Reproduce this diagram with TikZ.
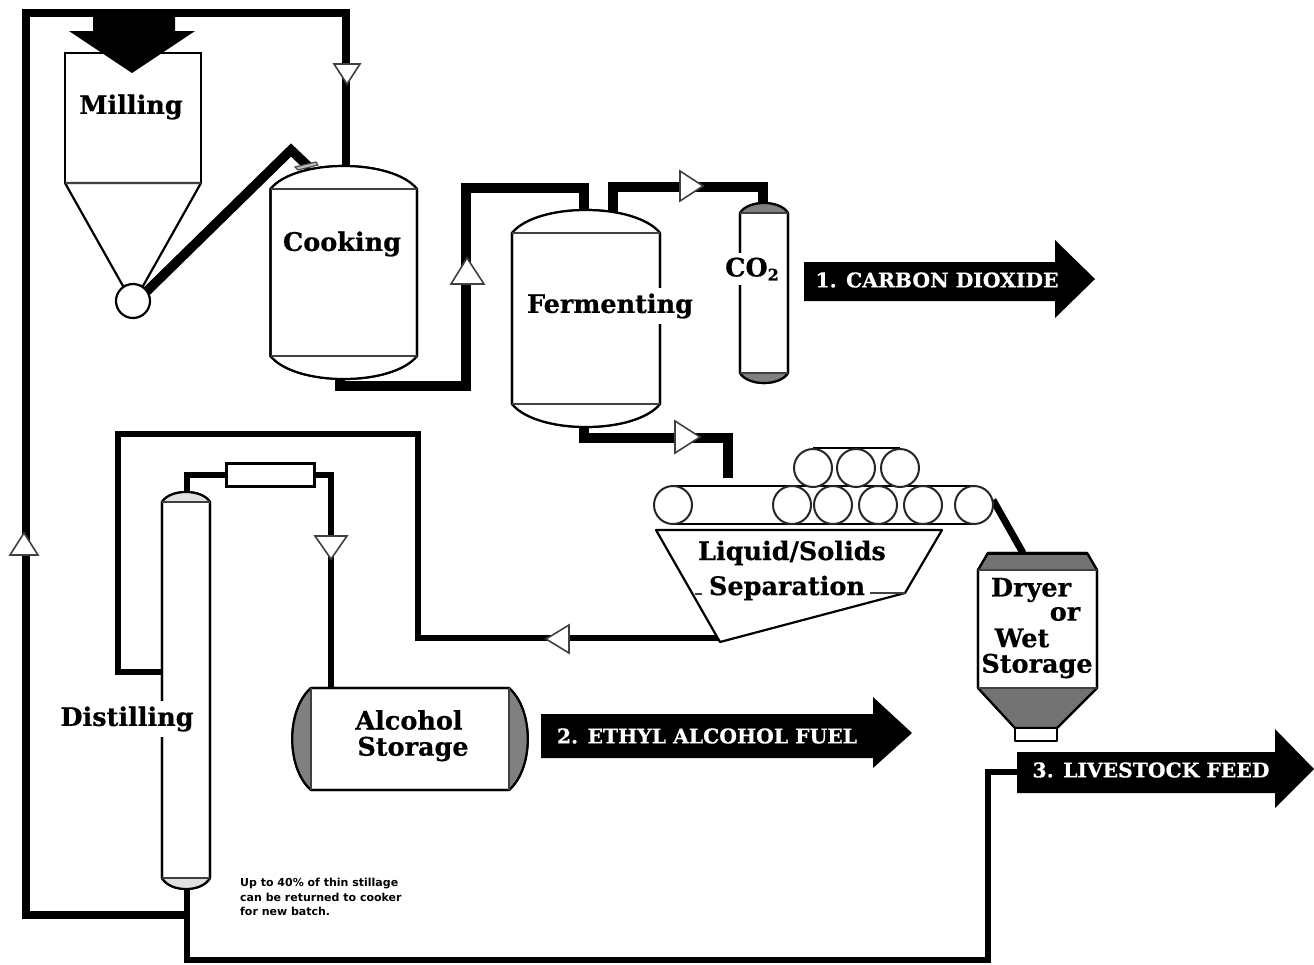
\documentclass[tikz,border=0pt]{standalone}
\usepackage{fontspec}
\setmainfont{DejaVu Serif}[BoldFeatures={FakeBold=0.6}]
\newfontfamily\notefont{DejaVu Sans}
\tikzset{
  pipe/.style={draw=black,line width=9.5pt,line join=miter},
  pipethin/.style={draw=black,line width=5.5pt,line join=miter},
  outline/.style={draw=black,line width=2.2pt,fill=white,line join=round},
  thinline/.style={draw=black!75,line width=1.6pt},
  flowtri/.style={draw=black!75,line width=1.6pt,fill=white,line join=miter},
  lbl/.style={font=\bfseries\fontsize{#1}{#1}\selectfont,inner sep=0pt,text=black},
  lbl/.default=25.5,
  gaplbl/.style={lbl=#1,fill=white,inner xsep=2pt,inner ysep=5pt},
  outlbl/.style={font=\bfseries\fontsize{20.3}{20.3}\selectfont,text=white,inner sep=0pt},
  notelbl/.style={font=\notefont\bfseries\fontsize{11}{14.5}\selectfont,align=left,anchor=north west,inner sep=0pt},
  roller/.style={draw=black!85,line width=2pt,fill=white},
  bigarrow/.style={fill=black,draw=none}
}
% tank: x1, x2, apex y, cap line y, bottom line y, bottom y, fill colour of the caps
\newcommand{\tankshape}[7]{%
  \pgfmathsetmacro{\tkw}{#2-#1}%
  \pgfmathsetmacro{\tka}{#1+0.17*\tkw}%
  \pgfmathsetmacro{\tkb}{#2-0.17*\tkw}%
  \pgfmathsetmacro{\tkc}{#4-(#4-#3)*1.333}%
  \pgfmathsetmacro{\tkd}{#5+(#6-#5)*1.333}%
  \draw[outline] (#1,#4) .. controls (\tka,\tkc) and (\tkb,\tkc) .. (#2,#4)
    -- (#2,#5) .. controls (\tkb,\tkd) and (\tka,\tkd) .. (#1,#5) -- cycle;
  \fill[#7] (#1,#4) .. controls (\tka,\tkc) and (\tkb,\tkc) .. (#2,#4) -- cycle;
  \fill[#7] (#2,#5) .. controls (\tkb,\tkd) and (\tka,\tkd) .. (#1,#5) -- cycle;
  \draw[outline,fill=none] (#1,#4) .. controls (\tka,\tkc) and (\tkb,\tkc) .. (#2,#4)
    -- (#2,#5) .. controls (\tkb,\tkd) and (\tka,\tkd) .. (#1,#5) -- cycle;
  \draw[thinline] (#1,#4) -- (#2,#4) (#1,#5) -- (#2,#5);
}
\begin{document}
\begin{tikzpicture}[x=1pt,y=-1pt]
\useasboundingbox[fill=white] (0,0) rectangle (1314,964);

% named points on the equipment
\coordinate (cookTop) at (346,170);
\coordinate (cookBot) at (340,376);
\coordinate (cookIn) at (310,168);
\coordinate (millOut) at (146,292);
\coordinate (bend) at (291,150);
\coordinate (fermIn) at (584,214);
\coordinate (fermOut) at (613,214);
\coordinate (fermBot) at (584,425);
\coordinate (co2Top) at (763,206);
\coordinate (sepIn) at (728,478);
\coordinate (sepOut) at (722,638);
\coordinate (distLeft) at (164,672);
\coordinate (distTop) at (187,495);
\coordinate (distBot) at (187,885);
\coordinate (condL) at (226,475);
\coordinate (condR) at (315,475);
\coordinate (alcTop) at (331,690);
\coordinate (feedEnd) at (1020,772);
\coordinate (beltEnd) at (993,500);
\coordinate (dryerTop) at (1023,553);

% pipes
\draw[pipe,line width=8pt] (distBot |- 0,915) -- (26,915) -- (26,13) -- (346,13) -- (cookTop);
\draw[pipe] (millOut) -- (bend) -- (cookIn);
\draw[pipe] (cookBot) |- (466,386) -- (466,188) -| (fermIn);
\draw[pipe] (fermOut) |- (700,187) -| (co2Top);
\draw[pipe] (fermBot) |- (700,438) -| (sepIn);
\draw[pipethin] (sepOut) -- (418,638) -- (418,434) -- (118,434) -- (118,672) -- (distLeft);
\draw[pipethin] (distTop) |- (condL);
\draw[pipethin] (condR) -| (alcTop);
\draw[pipethin] (distBot) -- (187,960) -- (988,960) |- (feedEnd);
\draw[line width=7pt] (beltEnd) -- (dryerTop);

% milling
\node[draw=black,line width=2.2pt,fill=white,minimum width=136pt,minimum height=130pt,inner sep=0pt] (millbox) at (133,118) {};
\draw[outline] (65,183) -- (123,286) -- (143,286) -- (201,183) -- cycle;
\draw[thinline] (65,183) -- (201,183);
\draw[outline] (133,301) circle (17);
\path[bigarrow] (93,15) -- (175,15) -- (175,31) -- (195,31) -- (132,73) -- (69,31) -- (93,31) -- cycle;

% tanks
\tankshape{270.5}{417}{166}{189}{356}{379}{white}
\draw[draw=black!70,line width=1.2pt,fill=black!25] (295,167) -- (316,162) -- (318,165) -- (298,170) -- cycle;
\tankshape{512}{660}{210}{233}{404}{427}{white}
\tankshape{740}{788}{203}{213}{373}{383}{black!50}
\tankshape{162}{210}{492}{502}{878}{889}{black!12}

% condenser
\node[draw=black,line width=2.5pt,fill=white,minimum width=88pt,minimum height=23pt,inner sep=0pt] (cond) at (270.5,475) {};

% alcohol storage
\draw[outline] (311,688) -- (509,688) .. controls (534,710) and (534,768) .. (509,790)
  -- (311,790) .. controls (286,768) and (286,710) .. (311,688) -- cycle;
\fill[black!50] (311,688) .. controls (286,710) and (286,768) .. (311,790) -- cycle;
\fill[black!50] (509,688) .. controls (534,710) and (534,768) .. (509,790) -- cycle;
\draw[outline,fill=none] (311,688) -- (509,688) .. controls (534,710) and (534,768) .. (509,790)
  -- (311,790) .. controls (286,768) and (286,710) .. (311,688) -- cycle;
\draw[thinline] (311,688) -- (311,790) (509,688) -- (509,790);

% conveyor
\draw[draw=black,line width=2pt] (813,448) -- (900,448);
\draw[draw=black,line width=2pt] (673,486) -- (974,486) (673,524) -- (974,524);
\foreach \rx/\rn in {813/a,856/b,900/c}
  \node[circle,roller,minimum size=38pt,inner sep=0pt] (up\rn) at (\rx,468) {};
\foreach \rx/\rn in {673/a,792/b,833/c,878/d,923/e,974/f}
  \node[circle,roller,minimum size=38pt,inner sep=0pt] (low\rn) at (\rx,505) {};

% separator
\draw[outline] (656,530) -- (942,530) -- (905,593) -- (720,642) -- cycle;
\draw[thinline] (870,593) -- (905,593) (695,594) -- (702,594);

% dryer
\draw[outline] (988,553) -- (1087,553) -- (1097,570) -- (1097,688) -- (1057,728) -- (1015,728) -- (978,688) -- (978,570) -- cycle;
\fill[black!55] (988,554) -- (1087,554) -- (1096,570) -- (979,570) -- cycle;
\fill[black!55] (979,688) -- (1096,688) -- (1057,727) -- (1015,727) -- cycle;
\draw[outline,fill=none] (988,553) -- (1087,553) -- (1097,570) -- (1097,688) -- (1057,728) -- (1015,728) -- (978,688) -- (978,570) -- cycle;
\draw[line width=3pt] (988,553) -- (1087,553);
\draw[thinline] (978,570) -- (1097,570) (978,688) -- (1097,688);
\draw[outline] (1015,728) rectangle (1057,741);

% flow triangles
\draw[flowtri] (334,64) -- (360,64) -- (347,84) -- cycle;
\draw[flowtri] (467,258) -- (484,284) -- (451,284) -- cycle;
\draw[flowtri] (680,171) -- (703,186) -- (680,201) -- cycle;
\draw[flowtri] (675,421) -- (700,437) -- (675,453) -- cycle;
\draw[flowtri] (546,639) -- (569,625) -- (569,653) -- cycle;
\draw[flowtri] (315,536) -- (347,536) -- (331,559) -- cycle;
\draw[flowtri] (24,533) -- (38,555) -- (10,555) -- cycle;

% product arrows
\path[bigarrow] (804,262) -- (1055,262) -- (1055,240) -- (1095,279) -- (1055,318) -- (1055,301) -- (804,301) -- cycle;
\path[bigarrow] (541,714) -- (873,714) -- (873,697) -- (912,733) -- (873,768) -- (873,758) -- (541,758) -- cycle;
\path[bigarrow] (1017,752) -- (1275,752) -- (1275,729) -- (1314,769) -- (1275,808) -- (1275,793) -- (1017,793) -- cycle;

% labels
\node[lbl] (tmill) at (131,107) {Milling};
\node[lbl] (tcook) at (342,244) {Cooking};
\node[gaplbl=25.5] (tferm) at (610,306) {Fermenting};
\node[gaplbl=25.5] (tco) at (752,269) {CO\raisebox{-4pt}{\fontsize{16}{16}\selectfont 2}};
\node[lbl] (tsepa) at (792,553) {Liquid/Solids};
\node[lbl] (tsepb) at (787,588) {Separation};
\node[lbl] (tdrya) at (1031,590) {Dryer};
\node[lbl] (tdryb) at (1065,614) {or};
\node[lbl] (tdryc) at (1022,638) {Wet};
\node[lbl] (tdryd) at (1037,666) {Storage};
\node[gaplbl=25.5] (tdist) at (127,719) {Distilling};
\node[lbl] (talca) at (409,720) {Alcohol};
\node[lbl] (talcb) at (413,749) {Storage};
\node[outlbl] (tout1) at (937,280) {1. CARBON DIOXIDE};
\node[outlbl] (tout2) at (707,736) {2. ETHYL ALCOHOL FUEL};
\node[outlbl] (tout3) at (1151,770) {3. LIVESTOCK FEED};
\node[notelbl] (tnote) at (240,878) {Up to 40\% of thin stillage\\can be returned to cooker\\for new batch.};
\end{tikzpicture}
\end{document}
